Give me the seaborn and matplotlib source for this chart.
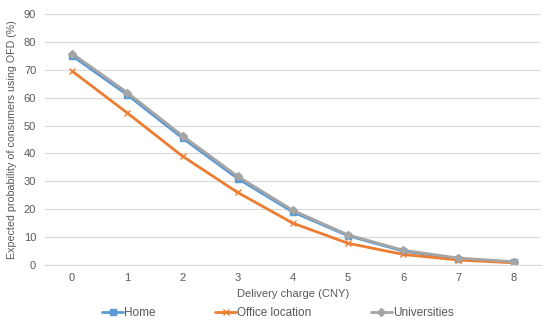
import matplotlib
matplotlib.use('Agg')
import matplotlib.pyplot as plt
import pandas as pd
import seaborn as sns

# Data
charge = [0, 1, 2, 3, 4, 5, 6, 7, 8]
home = [75.0, 61.0, 45.5, 31.0, 19.0, 10.5, 5.0, 2.2, 1.0]
office = [69.5, 54.5, 39.0, 26.0, 15.0, 7.8, 3.8, 1.8, 0.8]
universities = [75.8, 61.8, 46.3, 31.8, 19.6, 10.8, 5.3, 2.5, 1.2]
series_names = ['Home', 'Office location', 'Universities']

df = pd.DataFrame({
    'charge': charge * 3,
    'value': home + office + universities,
    'series': [s for s in series_names for _ in charge],
})

sns.set_style('white')
plt.rcParams['font.family'] = ['Liberation Sans', 'DejaVu Sans']

text_color = '#595959'
palette = {'Home': '#5B9BD5', 'Office location': '#ED7D31', 'Universities': '#A5A5A5'}
markers = {'Home': 's', 'Office location': 'x', 'Universities': 'D'}

fig = plt.figure(figsize=(5.5, 3.24), dpi=100)
ax = fig.add_axes([0.081, 0.182, 0.903, 0.775])

# one call per series since filled and line-art markers can't be mixed
for name in series_names:
    sub = df[df['series'] == name]
    sns.lineplot(data=sub, x='charge', y='value', color=palette[name],
                 marker=markers[name], linewidth=2, markersize=4.5,
                 markeredgewidth=1, markeredgecolor=palette[name],
                 label=name, ax=ax)

ax.set_xlim(-0.5, 8.5)
ax.set_ylim(0, 90)
ax.set_xticks(charge)
ax.set_yticks(range(0, 91, 10))
ax.grid(axis='y', color='#D9D9D9', linewidth=0.8)
ax.set_axisbelow(True)
for side in ['top', 'right', 'left']:
    ax.spines[side].set_visible(False)
ax.spines['bottom'].set_color('#D9D9D9')
ax.tick_params(axis='both', length=0, labelsize=8, colors=text_color, pad=6)

ax.set_xlabel('Delivery charge (CNY)', fontsize=8, color=text_color, labelpad=4)
ax.set_ylabel('Expected probability of consumers using OFD (%)', fontsize=7.7,
              color=text_color, labelpad=5)

handles, labels = ax.get_legend_handles_labels()
leg = ax.legend(handles, labels, loc='upper center', bbox_to_anchor=(0.47, -0.15),
                ncol=3, frameon=False, fontsize=8.5, handlelength=1.8,
                handletextpad=0.1, columnspacing=5.0, borderaxespad=0)
for t in leg.get_texts():
    t.set_color(text_color)

fig.savefig('out.png', dpi=100)
